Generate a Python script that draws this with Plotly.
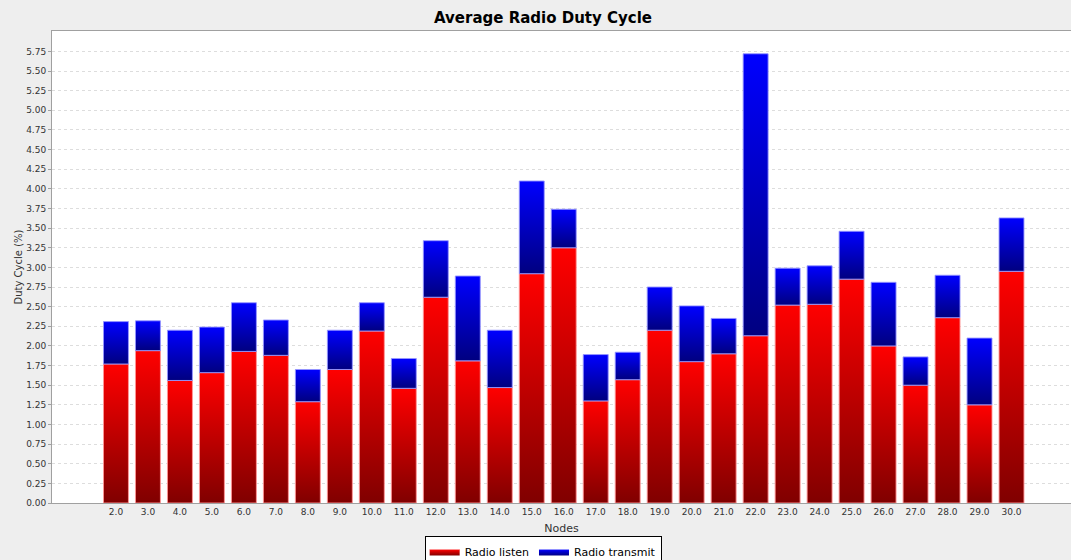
"""Average Radio Duty Cycle - stacked bars with vertical gradient"""
import plotly.graph_objects as go

# 数据
nodes = [2.0, 3.0, 4.0, 5.0, 6.0, 7.0, 8.0, 9.0, 10.0, 11.0, 12.0, 13.0, 14.0, 15.0,
         16.0, 17.0, 18.0, 19.0, 20.0, 21.0, 22.0, 23.0, 24.0, 25.0, 26.0, 27.0, 28.0,
         29.0, 30.0]
radio_listen = [1.77, 1.94, 1.56, 1.66, 1.93, 1.88, 1.29, 1.70, 2.19, 1.46, 2.62, 1.81,
                1.47, 2.92, 3.25, 1.30, 1.57, 2.20, 1.80, 1.90, 2.13, 2.52, 2.53, 2.85,
                2.00, 1.50, 2.36, 1.25, 2.95]
radio_transmit = [0.54, 0.38, 0.64, 0.58, 0.62, 0.45, 0.41, 0.50, 0.36, 0.38, 0.72, 1.08,
                  0.73, 1.18, 0.49, 0.59, 0.35, 0.55, 0.71, 0.45, 3.59, 0.47, 0.49, 0.61,
                  0.81, 0.36, 0.54, 0.85, 0.68]
tick_labels = [f'{n:.1f}' for n in nodes]
y_ticks = [i * 0.25 for i in range(24)]

SERIES = [
    ('Radio listen', radio_listen, '#800000', '#ff0000', 'rgba(255,150,150,0.9)'),
    ('Radio transmit', radio_transmit, '#000080', '#0000ff', 'rgba(150,150,255,0.9)'),
]
HALF_W = 0.39

fig = go.Figure()

base = [0.0] * len(nodes)
for name, values, dark, bright, edge in SERIES:
    for i, (n, v) in enumerate(zip(nodes, values)):
        b = base[i]
        t = b + v
        fig.add_trace(go.Scatter(
            x=[n - HALF_W, n - HALF_W, n + HALF_W, n + HALF_W, n - HALF_W],
            y=[b, t, t, b, b],
            mode='lines',
            fill='toself',
            fillgradient=dict(type='vertical', colorscale=[[0, dark], [1, bright]],
                              start=b, stop=t),
            line=dict(color=edge, width=1),
            name=name,
            legendgroup=name,
            showlegend=(i == 0),
            hoveron='fills',
            text=f'{name}: {v:.2f}',
            hoverinfo='text',
        ))
        base[i] = t

fig.update_layout(
    width=1071,
    height=560,
    title=dict(
        text='<b>Average Radio Duty Cycle</b>',
        x=0.507, xref='container', xanchor='center',
        y=1 - 18 / 560, yref='container', yanchor='middle',
        font=dict(size=15, color='#000000', family='DejaVu Sans'),
    ),
    paper_bgcolor='#eeeeee',
    plot_bgcolor='#ffffff',
    font=dict(family='DejaVu Sans', color='#333333', size=9),
    margin=dict(l=52, r=0, t=31, b=57, autoexpand=False),
    showlegend=True,
    legend=dict(
        orientation='h',
        x=0.482, xanchor='center',
        y=-0.070, yanchor='top',
        bgcolor='#ffffff',
        bordercolor='#000000',
        borderwidth=1,
        font=dict(size=11, color='#000000'),
        itemwidth=30,
        tracegroupgap=0,
    ),
)

fig.update_xaxes(
    range=[0.0, 31.86],
    tickvals=nodes,
    ticktext=tick_labels,
    showgrid=False,
    zeroline=False,
    showline=True,
    linecolor='#a0a0a0',
    linewidth=1,
    mirror=True,
    ticks='',
    tickfont=dict(size=9, color='#333333'),
    title=dict(text='Nodes', font=dict(size=11, color='#333333'), standoff=8),
)
fig.update_yaxes(
    range=[0, 6.01],
    tickvals=y_ticks,
    tickformat='.2f',
    showgrid=True,
    gridcolor='#dddddd',
    griddash='dot',
    gridwidth=1,
    zeroline=False,
    showline=True,
    linecolor='#a0a0a0',
    linewidth=1,
    ticks='outside',
    ticklen=3,
    tickcolor='#a0a0a0',
    tickfont=dict(size=9, color='#333333'),
    title=dict(text='Duty Cycle (%)', font=dict(size=10, color='#333333'), standoff=1),
)

# 去掉页面默认的 body 边距，使图表与窗口对齐
fig.write_html('out.html', config={'displayModeBar': False},
               post_script="document.body.style.margin='0';")
